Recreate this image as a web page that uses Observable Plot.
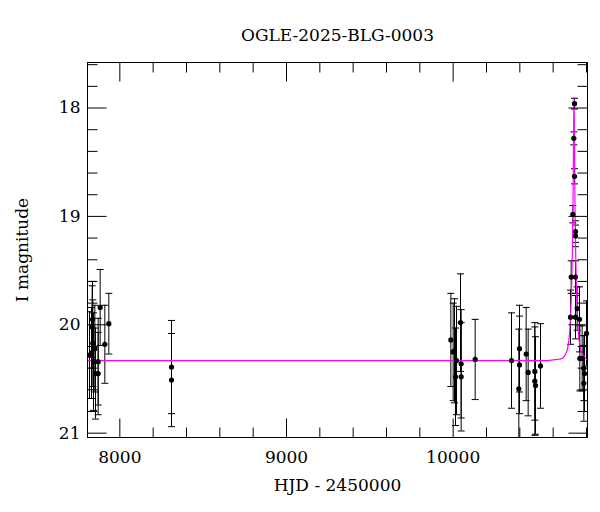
<!DOCTYPE html>
<html><head><meta charset="utf-8">
<script src="https://cdn.jsdelivr.net/npm/d3@7"></script>
<script src="https://cdn.jsdelivr.net/npm/@observablehq/plot@0.6"></script>
<style>body{margin:0;background:#fff;}</style>
</head><body><div id="chart"></div>
<script>
const title = "OGLE-2025-BLG-0003";
const xLabel = "HJD - 2450000";
const yLabel = "I magnitude";

// Photometry: HJD-2450000, I magnitude, error
const hjd  = [7818, 7830, 7834, 7838, 7842, 7850, 7854, 7870, 7870, 7882, 7910, 7934, 7836,
              8310, 8310,
              9986, 10000, 10008, 10020, 10044, 10048, 10014, 10048, 10132,
              10350, 10398, 10398, 10394, 10438, 10450, 10490, 10490, 10494, 10524,
              10728, 10724, 10728, 10718, 10734, 10734, 10708, 10734, 10704, 10734, 10744, 10758, 10760, 10774, 10784, 10788, 10784, 10800];
const imag = [20.28, 20.26, 20.02, 20.17, 20.34, 20.22, 20.45, 20.34, 20.45, 19.84, 20.18, 19.99, 19.95,
              20.39, 20.51,
              20.14, 20.25, 20.24, 20.33, 19.98, 20.36, 20.48, 20.48, 20.32,
              20.33, 20.22, 20.37, 20.59, 20.27, 20.44, 20.43, 20.52, 20.56, 20.38,
              17.96, 18.28, 18.63, 18.98, 19.14, 19.18, 19.56, 19.56, 19.93, 19.93, 19.85, 19.95, 20.31, 20.31, 20.40, 20.45, 20.54, 20.08];
const ierr = [0.40, 0.42, 0.38, 0.40, 0.45, 0.40, 0.42, 0.40, 0.38, 0.35, 0.36, 0.28, 0.35,
              0.43, 0.43,
              0.43, 0.45, 0.48, 0.50, 0.45, 0.50, 0.45, 0.50, 0.37,
              0.44, 0.40, 0.45, 0.55, 0.43, 0.40, 0.45, 0.50, 0.45, 0.39,
              0.05, 0.06, 0.07, 0.08, 0.10, 0.10, 0.15, 0.15, 0.25, 0.20, 0.20, 0.30, 0.30, 0.30, 0.30, 0.35, 0.35, 0.30];

// Model light curve
const modelHjd = [7806, 10560, 10625, 10655, 10675, 10685, 10695, 10700, 10705, 10709, 10712, 10715, 10717, 10719, 10721, 10723, 10725,
                  10727, 10729, 10731, 10733, 10735, 10738, 10741, 10745, 10750, 10755, 10765, 10775, 10795, 10806];
const modelMag = [20.33, 20.33, 20.32, 20.31, 20.27, 20.23, 20.13, 20.04, 19.90, 19.74, 19.57, 19.34, 19.14, 18.89, 18.56, 18.15, 17.90,
                  18.15, 18.56, 18.89, 19.14, 19.34, 19.57, 19.74, 19.90, 20.04, 20.13, 20.23, 20.27, 20.31, 20.32];

const xDomain = [7806, 10806];
const yDomain = [17.58, 21.04];
const xMajor = [8000, 9000, 10000];
const xMinor = [8200, 8400, 8600, 8800, 9200, 9400, 9600, 9800, 10200, 10400, 10600, 10800];
const yMajor = [18, 19, 20, 21];
const yMinor = [17.6, 17.8, 18.2, 18.4, 18.6, 18.8, 19.2, 19.4, 19.6, 19.8, 20.2, 20.4, 20.6, 20.8];

const points = hjd.map((t, i) => ({t, m: imag[i], e: ierr[i]}));
const model = modelHjd.map((t, i) => ({t, m: modelMag[i]}));

const tickShape = {draw(ctx, l) { ctx.moveTo(0, 0); ctx.lineTo(0, -l); }};
const capSymbol = {draw(ctx) { ctx.moveTo(-3.5, 0); ctx.lineTo(3.5, 0); }};
const font = "DejaVu Serif";

function ticks(data, ch, anchor, rotate, length) {
  const o = {frameAnchor: anchor, rotate, length, anchor: "start", shape: tickShape,
             stroke: "black", strokeWidth: 1, strokeLinecap: "butt"};
  o[ch] = d => d;
  return Plot.vector(data, o);
}

const chart = Plot.plot({
  width: 600, height: 512,
  marginLeft: 87, marginRight: 13, marginTop: 62, marginBottom: 75,
  style: {fontFamily: font, fontSize: "17px", background: "white", color: "black"},
  x: {domain: xDomain, label: null},
  y: {domain: yDomain, reverse: true, label: null},
  marks: [
    Plot.ruleX(points, {x: "t", y1: d => d.m - d.e, y2: d => d.m + d.e, stroke: "black", strokeWidth: 1, clip: true}),
    Plot.dot(points, {x: "t", y: d => d.m - d.e, symbol: capSymbol, stroke: "black", fill: "none", strokeWidth: 1, clip: true}),
    Plot.dot(points, {x: "t", y: d => d.m + d.e, symbol: capSymbol, stroke: "black", fill: "none", strokeWidth: 1, clip: true}),
    Plot.line(model, {x: "t", y: "m", stroke: "#ff00ff", strokeWidth: 1.2, curve: "monotone-x", clip: true}),
    Plot.dot(points, {x: "t", y: "m", r: 2.6, fill: "black", stroke: "none"}),
    Plot.frame({stroke: "black", strokeWidth: 1}),
    ticks(xMajor, "x", "bottom", 0, 19), ticks(xMinor, "x", "bottom", 0, 10),
    ticks(xMajor, "x", "top", 180, 19), ticks(xMinor, "x", "top", 180, 10),
    ticks(yMajor, "y", "left", 90, 19), ticks(yMinor, "y", "left", 90, 10),
    ticks(yMajor, "y", "right", -90, 19), ticks(yMinor, "y", "right", -90, 10),
    Plot.axisX({anchor: "bottom", ticks: xMajor, tickSize: 0, tickPadding: 13, tickFormat: d => String(d), label: null, fontSize: 17}),
    Plot.axisY({anchor: "left", ticks: yMajor, tickSize: 0, tickPadding: 7, tickFormat: d => String(d), label: null, fontSize: 17}),
    Plot.text([title], {text: d => d, frameAnchor: "top", dy: -27, lineAnchor: "middle", textAnchor: "middle", fontSize: 17}),
    Plot.text([xLabel], {text: d => d, frameAnchor: "bottom", dy: 48, lineAnchor: "middle", textAnchor: "middle", fontSize: 17}),
    Plot.text([yLabel], {text: d => d, frameAnchor: "left", dx: -65, rotate: -90, lineAnchor: "middle", textAnchor: "middle", fontSize: 17})
  ]
});
document.getElementById("chart").append(chart);
</script>
</body></html>
